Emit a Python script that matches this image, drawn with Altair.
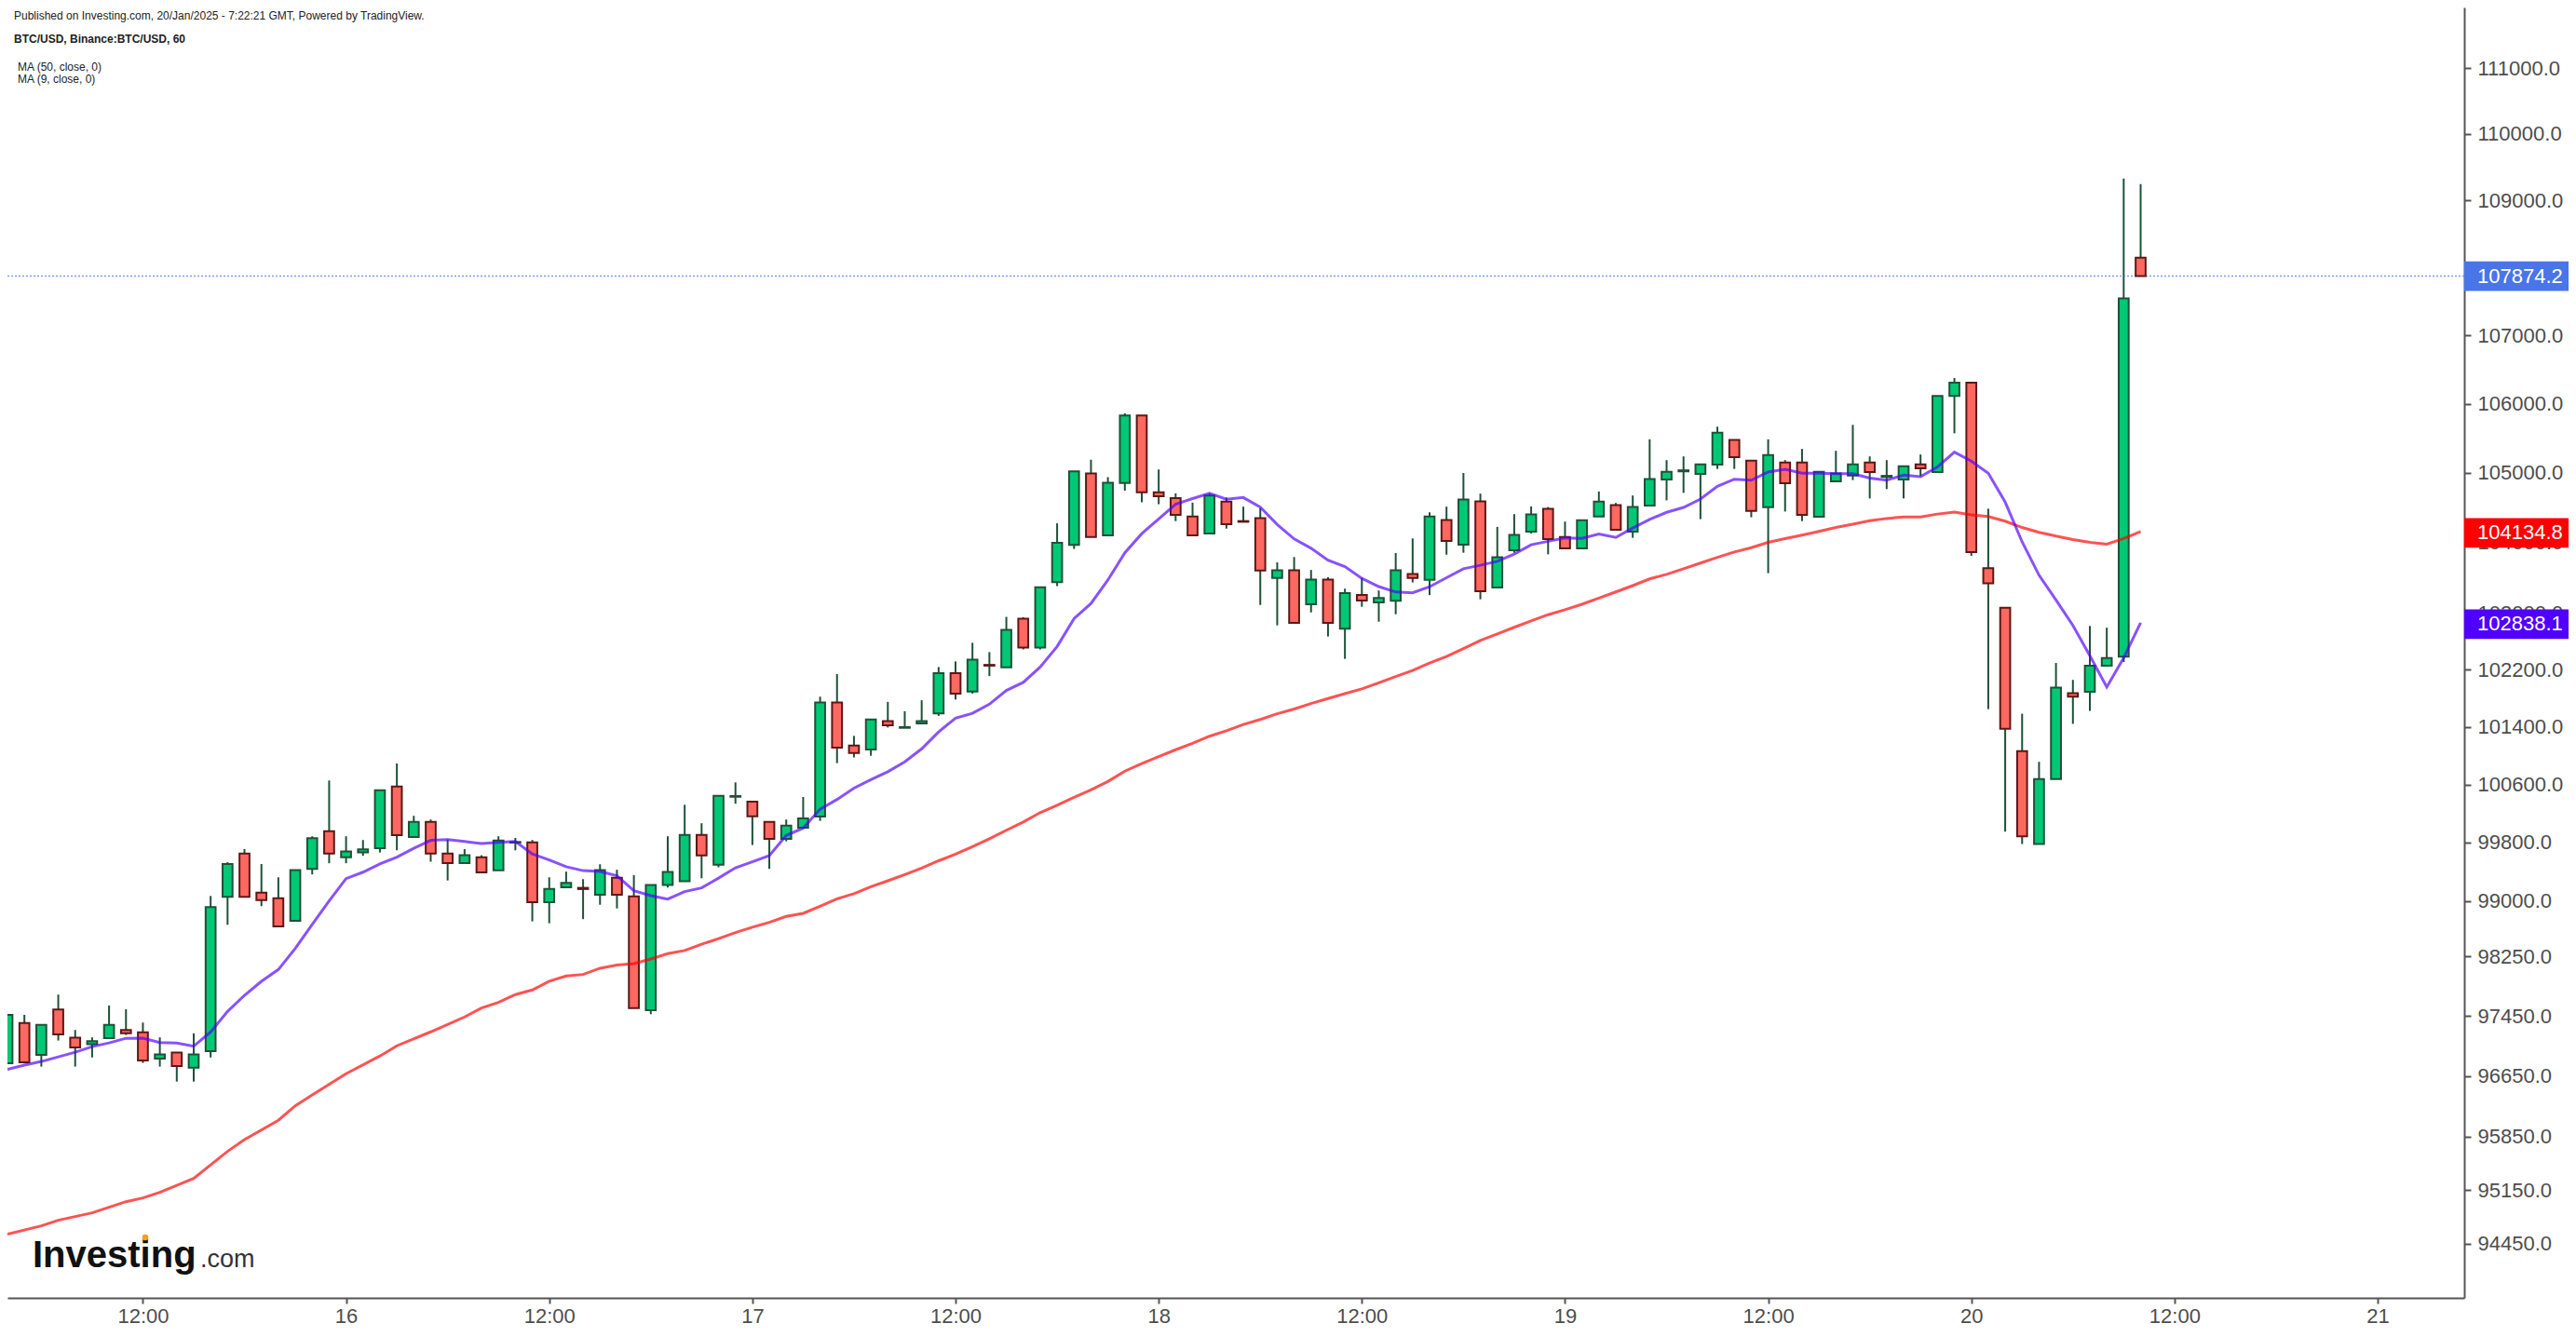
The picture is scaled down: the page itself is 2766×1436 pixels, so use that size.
import altair as alt
import numpy as np
import pandas as pd

# ---------------- data (BTC/USD, 1h candles, 15 Jan 04:00 -> 20 Jan 10:00) ----------------
# hour offset of each candle relative to 16 Jan 00:00
hours = list(range(-20, 107))

opens = [96821, 97358, 96933, 97537, 97160, 97073, 97155, 97264, 97234, 96883,
         96962, 96760, 96980, 99058, 99651, 99117, 99041, 98734, 99440, 99957,
         99597, 99664, 99724, 100572, 99877, 100085, 99651, 99520, 99600, 99419,
         99800, 99804, 98986, 99190, 99181, 99088, 99320, 99066, 97529, 99220,
         99270, 99906, 99496, 100430, 100361, 100085, 99851, 100005, 100158, 101738,
         101140, 101085, 101478, 101385, 101445, 101585, 102150, 101890, 102265, 102230,
         102915, 102510, 103433, 103963, 104989, 104102, 104852, 105828, 104720, 104636,
         104372, 104128, 104583, 104305, 104346, 103492, 103602, 103121, 103469, 102775,
         103253, 103147, 103170, 103549, 103466, 104320, 103968, 104587, 103359, 103889,
         104155, 104480, 104079, 103915, 104372, 104533, 104155, 104529, 104904, 105020,
         104984, 105118, 105473, 105176, 104503, 105149, 105149, 104368, 104877, 104961,
         105149, 104940, 104904, 105122, 105011, 106114, 106308, 103632, 103072, 101060,
         99780, 100674, 101870, 101889, 102254, 102383, 108147]

highs = [97466, 97466, 97333, 97738, 97264, 97165, 97591, 97541, 97363, 97165,
         96962, 97219, 99071, 99531, 99711, 99506, 99325, 99423, 99886, 100654,
         99886, 99835, 100520, 100890, 100167, 100116, 99842, 99711, 99626, 99886,
         99864, 99835, 99325, 99402, 99300, 99503, 99428, 99355, 99220, 99886,
         100319, 100065, 100443, 100628, 100361, 100085, 100116, 100427, 101820, 102137,
         101273, 101500, 101747, 101617, 101770, 102235, 102314, 102576, 102445, 102942,
         102937, 103363, 104273, 105019, 105188, 104937, 105861, 105828, 105047, 104703,
         104570, 104703, 104643, 104512, 104490, 103715, 103791, 103607, 103505, 103342,
         103492, 103315, 103849, 104057, 104431, 104512, 104997, 104699, 104222, 104405,
         104516, 104507, 104298, 104316, 104730, 104565, 104672, 105483, 105182, 105236,
         105122, 105666, 105473, 105176, 105483, 105182, 105344, 105015, 105317, 105693,
         105236, 105182, 105095, 105263, 106114, 106375, 106308, 104483, 103072, 101582,
         100913, 102292, 102055, 102814, 102789, 109329, 109246]

lows = [96821, 96825, 96776, 97123, 96776, 96898, 97155, 97197, 96825, 96776,
        96577, 96577, 96897, 98680, 99058, 98932, 98658, 98734, 99364, 99517,
        99517, 99619, 99664, 99694, 99877, 99538, 99282, 99520, 99393, 99419,
        99694, 98726, 98700, 99190, 98756, 98952, 98902, 97558, 97475, 99186,
        99270, 99312, 99462, 100334, 99766, 99440, 99817, 100005, 100098, 100895,
        100974, 100997, 101390, 101384, 101445, 101552, 101780, 101863, 102108, 102230,
        102483, 102483, 103378, 103907, 104078, 104102, 104742, 104575, 104547, 104305,
        104102, 104128, 104198, 104295, 103111, 102822, 102857, 103005, 102665, 102350,
        103085, 102874, 102979, 103430, 103250, 103825, 103853, 103191, 103359, 103853,
        104128, 103830, 103915, 103915, 104372, 104181, 104066, 104529, 104603, 104710,
        104333, 105055, 105055, 104360, 103562, 104442, 104305, 104368, 104877, 104894,
        104630, 104764, 104630, 104950, 105011, 105570, 103808, 101646, 99950, 99780,
        99780, 100674, 101441, 101621, 102254, 102305, 107874.2]

closes = [97466, 96834, 97333, 97206, 97032, 97115, 97333, 97221, 96858, 96937,
          96784, 96937, 98919, 99506, 99058, 99015, 98658, 99423, 99861, 99648,
          99677, 99707, 100520, 99902, 100085, 99648, 99520, 99626, 99393, 99829,
          99808, 98986, 99168, 99250, 99165, 99423, 99088, 97558, 99220, 99397,
          99906, 99623, 100443, 100440, 100162, 99851, 100034, 100133, 101737, 101108,
          101034, 101500, 101422, 101395, 101478, 102150, 101863, 102338, 102255, 102760,
          102510, 103363, 103996, 105019, 104078, 104856, 105828, 104718, 104663, 104395,
          104102, 104672, 104261, 104295, 103598, 103602, 102857, 103469, 102857, 103280,
          103174, 103209, 103602, 103492, 104372, 104021, 104614, 103306, 103787, 104106,
          104400, 104048, 103915, 104316, 104586, 104181, 104507, 104908, 105015, 105035,
          105122, 105580, 105226, 104452, 105256, 104850, 104395, 105015, 104989, 105122,
          105011, 104955, 105095, 105064, 106114, 106308, 103860, 103417, 101372, 99887,
          100674, 101947, 101819, 102254, 102363, 107545, 107874.2]

# MA values read off the picture where earlier closes are not visible
ma9_head = [96740, 96795, 96844, 96906, 96967, 97042, 97091, 97153]
ma50_head_idx = [0, 2, 3, 5, 7, 8, 9, 11, 13, 14, 16, 17, 18, 20, 22, 23, 25, 27, 28, 29,
                 30, 31, 32, 33, 34, 35, 36, 37, 38, 39, 40, 41, 42, 43, 44, 45, 46, 47, 48]
ma50_head_val = [94575, 94682, 94755, 94852, 94997, 95046, 95118, 95302, 95656, 95811,
                 96065, 96257, 96401, 96681, 96917, 97053, 97239, 97438, 97558, 97633,
                 97738, 97800, 97917, 97988, 98008, 98092, 98134, 98155, 98217, 98289,
                 98331, 98416, 98491, 98574, 98646, 98713, 98793, 98835, 98932]

y_ticks = [94450, 95150, 95850, 96650, 97450, 98250, 99000, 99800, 100600, 101400,
           102200, 103000, 104000, 105000, 106000, 107000, 109000, 110000, 111000]
x_ticks = [-12, 0, 12, 24, 36, 48, 60, 72, 84, 96, 108, 120]

tag_values = [107874.2, 104134.8, 102838.1]
tag_text = ["107874.2", "104134.8", "102838.1"]
tag_colors = ["#4975E8", "#FF0000", "#5000FF"]

header1 = "Published on Investing.com, 20/Jan/2025 - 7:22:21 GMT, Powered by TradingView."
header2 = "BTC/USD, Binance:BTC/USD, 60"
legend1 = "MA (50, close, 0)"
legend2 = "MA (9, close, 0)"

# ---------------- styling ----------------
FONT = "Liberation Sans"
GREEN, GREEN_EDGE = "#01C875", "#1F5138"
RED, RED_EDGE = "#FF6860", "#5B1816"
AXIS_COL = "#555555"
LABEL_COL = "#4d4d4d"
W, H = 2638, 1386

# ---------------- frames ----------------
df = pd.DataFrame({"h": hours, "open": opens, "high": highs, "low": lows, "close": closes})
df["dir"] = np.where(df["close"] >= df["open"], "up", "down")
ma9 = df["close"].rolling(9).mean()
ma9.iloc[:8] = ma9_head
df["ma9"] = ma9

ma50_full = df["close"].rolling(50).mean()
ma50_df = pd.concat([
    pd.DataFrame({"h": [hours[i] for i in ma50_head_idx], "ma50": ma50_head_val}),
    pd.DataFrame({"h": hours[49:], "ma50": ma50_full.iloc[49:].values}),
], ignore_index=True)

tags = pd.DataFrame({"p": tag_values, "txt": tag_text, "col": tag_colors})

xscale = alt.Scale(domain=[-19.726, 124.84], nice=False, zero=False)
yscale = alt.Scale(type="log", domain=[93750, 111929], nice=False, zero=False)

x_axis = alt.Axis(values=x_ticks,
                  labelExpr="datum.value % 24 == 0 ? '' + (16 + datum.value / 24) : '12:00'",
                  labelFont=FONT, labelFontSize=22, labelColor=LABEL_COL,
                  tickColor=AXIS_COL, tickSize=6, tickWidth=2,
                  domainColor=AXIS_COL, domainWidth=2, labelPadding=3,
                  labelOverlap=False, labelFlush=False, grid=False, title=None)
y_axis = alt.Axis(orient="right", values=y_ticks, format=".1f",
                  labelFont=FONT, labelFontSize=22, labelColor=LABEL_COL,
                  tickColor=AXIS_COL, tickSize=7, tickWidth=2,
                  domainColor=AXIS_COL, domainWidth=2, labelPadding=7,
                  labelOverlap=False, labelBound=False, labelFlush=False, grid=False, title=None)


def X(field, axis=alt.Undefined):
    return alt.X(field, scale=xscale, axis=axis, title=None)


def Y(field, axis=alt.Undefined):
    return alt.Y(field, scale=yscale, axis=axis, title=None)


wicks = alt.Chart(df).mark_rule(color=GREEN_EDGE, strokeWidth=2, clip=True).encode(
    x=X("h:Q", x_axis), y=Y("low:Q", y_axis), y2="high:Q")

price_line = alt.Chart(tags.iloc[[0]]).mark_rule(
    color="#4975E8", strokeDash=[2, 2], strokeWidth=1.5, opacity=0.7
).encode(y=Y("p:Q"))

bodies = alt.Chart(df).mark_bar(size=10.7, strokeWidth=2, clip=True).encode(
    x=X("h:Q"), y=Y("open:Q"), y2="close:Q",
    fill=alt.Fill("dir:N", scale=alt.Scale(domain=["up", "down"], range=[GREEN, RED]), legend=None),
    stroke=alt.Stroke("dir:N", scale=alt.Scale(domain=["up", "down"], range=[GREEN_EDGE, RED_EDGE]), legend=None),
)

ma50_line = alt.Chart(ma50_df).mark_line(color="#FF0000", opacity=0.68, strokeWidth=3, clip=True).encode(
    x=X("h:Q"), y=Y("ma50:Q"))
ma9_line = alt.Chart(df).mark_line(color="#5000FF", opacity=0.68, strokeWidth=3, clip=True).encode(
    x=X("h:Q"), y=Y("ma9:Q"))

tag_boxes = alt.Chart(tags).mark_point(
    shape="M0,-1H7.7V1H0Z", size=1005, filled=True, opacity=1, strokeWidth=0
).encode(x=alt.value(W), y=Y("p:Q"), fill=alt.Fill("col:N", scale=None))
tag_labels = alt.Chart(tags).mark_text(
    align="left", baseline="middle", color="white", font=FONT, fontSize=22, dx=14
).encode(x=alt.value(W), y=Y("p:Q"), text="txt:N")


def note(txt, xv, yv, size=12, weight="normal", color="#222222", baseline="middle"):
    return alt.Chart(pd.DataFrame({"t": [txt]})).mark_text(
        align="left", baseline=baseline, font=FONT, fontSize=size, fontWeight=weight, color=color
    ).encode(x=alt.value(xv), y=alt.value(yv), text="t:N")


logo_accent = alt.Chart(pd.DataFrame({"t": [""]})).mark_point(
    shape="circle", size=45, filled=True, opacity=1, color="#F5A01A"
).encode(x=alt.value(148), y=alt.value(1321))

chart = alt.layer(
    wicks, price_line, bodies, ma50_line, ma9_line, tag_boxes, tag_labels,
    note(header1, 7, 9),
    note(header2, 7, 34, weight="bold"),
    note(legend1, 11, 64),
    note(legend2, 11, 77),
    note("Investing", 27, 1353, size=40, weight="bold", color="#111111", baseline="alphabetic"),
    note(".com", 207, 1353, size=27, color="#333333", baseline="alphabetic"),
    logo_accent,
).properties(
    width=W, height=H,
    autosize=alt.AutoSizeParams(type="none"),
    padding={"left": 0, "top": 0, "right": 112, "bottom": 30},
    background="white",
).configure_view(stroke=None)

chart.save("out.html", embed_options={"renderer": "svg", "actions": False})
